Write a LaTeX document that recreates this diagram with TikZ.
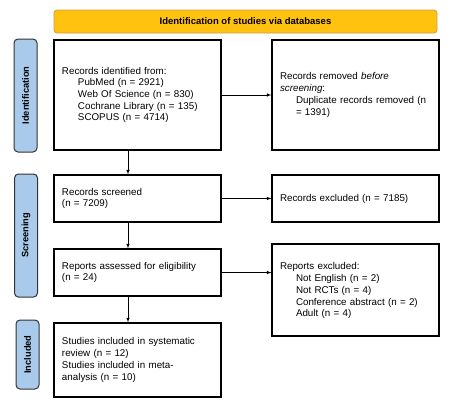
\documentclass[tikz,border=0pt]{standalone}
\usepackage{fontspec}
\setmainfont{Liberation Sans}

\definecolor{bannergold}{HTML}{FFC20E}
\definecolor{bannerline}{HTML}{C9A043}
\definecolor{tabblue}{HTML}{A9CAEB}

\newcommand{\indt}{\hspace*{16pt}}

\begin{document}
\begin{tikzpicture}[x=1pt,y=-1pt,>=latex]
  \useasboundingbox (0,0) rectangle (451,405);
  \begin{scope}[font=\fontsize{9.8}{11.7}\selectfont]

    \def\Lx{137.5};   % left column
    \def\Rx{355.5};   % right column
    \def\Ax{128};     % vertical arrows

    \tikzset{
      box/.style={draw, line width=1.1pt, align=left, text width=151pt,
                  inner xsep=8pt, inner ysep=0pt, minimum height=#1},
      tab/.style={draw=black!80, line width=1pt, fill=tabblue, rounded corners=4pt,
                  rotate=90, minimum height=23pt, inner sep=0pt,
                  minimum width=#1, font=\fontsize{9.3}{11}\selectfont\bfseries},
      flow/.style={->, line width=0.6pt}
    }

    % banner
    \node[draw=bannerline, fill=bannergold, rounded corners=3pt, line width=0.8pt,
          minimum width=383pt, minimum height=23pt, inner sep=0pt,
          font=\fontsize{9.5}{11}\selectfont\bfseries]
      (title) at (245.5,21.5) {Identification of studies via databases};

    % side tabs
    \node[tab=113pt] (tabid)  at (25.5,95.5)  {Identification};
    \node[tab=123pt] (tabscr) at (26,235.5)   {Screening};
    \node[tab=69pt]  (tabinc) at (27.5,354.5) {Included};

    % boxes
    \node[box=110pt] (identified) at (\Lx,95) {Records identified from:\\
      \indt PubMed (n = 2921)\\
      \indt Web Of Science (n = 830)\\
      \indt Cochrane Library (n = 135)\\
      \indt SCOPUS (n = 4714)\\[9pt]};
    \node[box=110pt] (removed) at (\Rx,95) {Records removed \textit{before}\\
      \textit{screening}:\\
      \indt Duplicate records removed (n\\
      \indt = 1391)};
    \node[box=47pt] (screened) at (\Lx,198.5) {Records screened\\ (n = 7209)};
    \node[box=47pt] (excluded) at (\Rx,198.5) {Records excluded (n = 7185)};
    \node[box=47pt] (assessed) at (\Lx,272.5) {Reports assessed for eligibility\\ (n = 24)};
    \node[box=92pt] (reportsexcl) at (\Rx,290) {\\[-3pt]Reports excluded:\\
      \indt Not English (n = 2)\\
      \indt Not RCTs (n = 4)\\
      \indt Conference abstract (n = 2)\\
      \indt Adult (n = 4)};
    \node[box=74pt] (included) at (\Lx,360) {Studies included in systematic\\
      review (n = 12)\\
      Studies included in meta-\\
      analysis (n = 10)};

    % connectors
    \coordinate (col) at (\Ax,0);
    \draw[flow] (identified.east) -- (removed.west);
    \draw[flow] (screened.east) -- (excluded.west);
    \draw[flow] (assessed.east) -- (assessed.east -| reportsexcl.west);
    \draw[flow] (identified.south -| col) -- (screened.north -| col);
    \draw[flow] (screened.south -| col) -- (assessed.north -| col);
    \draw[flow] (assessed.south -| col) -- (included.north -| col);

  \end{scope}
\end{tikzpicture}
\end{document}
